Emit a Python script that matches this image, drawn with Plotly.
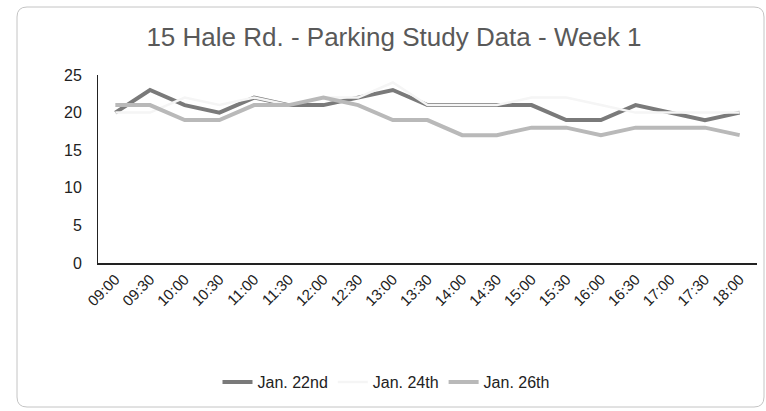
import plotly.graph_objects as go

times = ["09:00", "09:30", "10:00", "10:30", "11:00", "11:30", "12:00", "12:30", "13:00", "13:30",
         "14:00", "14:30", "15:00", "15:30", "16:00", "16:30", "17:00", "17:30", "18:00"]
jan22 = [20, 23, 21, 20, 22, 21, 21, 22, 23, 21, 21, 21, 21, 19, 19, 21, 20, 19, 20]
jan24 = [20, 20, 22, 21, 22, 21, 22, 22, 24, 21, 21, 21, 22, 22, 21, 20, 20, 20, 20]
jan26 = [21, 21, 19, 19, 21, 21, 22, 21, 19, 19, 17, 17, 18, 18, 17, 18, 18, 18, 17]

series_names = ["Jan. 22nd", "Jan. 24th", "Jan. 26th"]
series_vals = [jan22, jan24, jan26]
series_colors = ["#7a7a7a", "#f5f5f5", "#b9b9b9"]
series_widths = [4, 2.5, 4]

W, H = 766, 411
L, R, T, B = 98, 9, 75, 148
pw, ph = W - L - R, H - T - B

fig = go.Figure()
for name, vals, col, wd in zip(series_names, series_vals, series_colors, series_widths):
    fig.add_trace(go.Scatter(x=times, y=vals, mode="lines", name=name,
                             line=dict(color=col, width=wd)))

# rounded border around chart area (pixel -> paper coords)
def px(x):
    return (x - L) / pw
def py(y):
    return (H - B - y) / ph

x0, x1, y0, y1, r = 17, 764, 7, 407, 10
path = (f"M {px(x0 + r)} {py(y0)} L {px(x1 - r)} {py(y0)} "
        f"Q {px(x1)} {py(y0)} {px(x1)} {py(y0 + r)} L {px(x1)} {py(y1 - r)} "
        f"Q {px(x1)} {py(y1)} {px(x1 - r)} {py(y1)} L {px(x0 + r)} {py(y1)} "
        f"Q {px(x0)} {py(y1)} {px(x0)} {py(y1 - r)} L {px(x0)} {py(y0 + r)} "
        f"Q {px(x0)} {py(y0)} {px(x0 + r)} {py(y0)} Z")
fig.add_shape(type="path", path=path, xref="paper", yref="paper",
              line=dict(color="#c4c4c4", width=1), layer="below")

fig.update_layout(
    width=W, height=H,
    margin=dict(l=L, r=R, t=T, b=B),
    paper_bgcolor="white", plot_bgcolor="white",
    font=dict(family="Liberation Sans, Arial, sans-serif", color="#222222"),
    title=dict(text="15 Hale Rd. - Parking Study Data - Week 1",
               x=394 / W, xanchor="center", xref="container",
               y=1 - 37 / H, yanchor="middle", yref="container",
               font=dict(size=26, color="#595959")),
    showlegend=True,
    legend=dict(orientation="h", x=386 / W, xanchor="center", xref="container",
                y=1 - 382 / H, yanchor="middle", yref="container",
                font=dict(size=16, color="#222222"), bgcolor="rgba(0,0,0,0)"),
    xaxis=dict(type="category", range=[-0.5, 18.5], showgrid=False, zeroline=False,
               showline=True, linecolor="#222222", linewidth=1.5, ticks="",
               tickangle=-45, tickfont=dict(size=15, color="#222222")),
    yaxis=dict(range=[0, 25], dtick=5, showgrid=False, zeroline=False,
               showline=True, linecolor="#222222", linewidth=1, ticks="",
               ticklabelstandoff=12, tickfont=dict(size=16, color="#222222")),
)

fig.write_html("out.html", config={"displayModeBar": False},
               post_script="document.body.style.margin='0';document.body.style.overflow='hidden';")
